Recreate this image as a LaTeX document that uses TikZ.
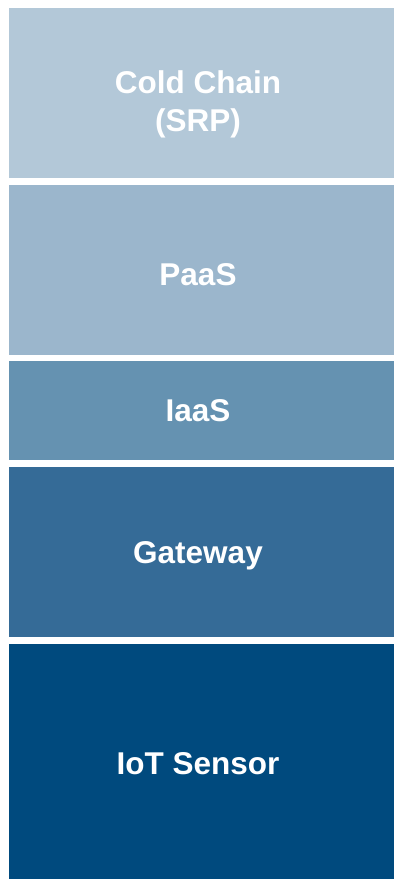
\documentclass[tikz,border=0pt]{standalone}
\usepackage{fontspec}
\setmainfont{Liberation Sans}
\definecolor{cA}{HTML}{B3C8D8}
\definecolor{cB}{HTML}{9BB6CC}
\definecolor{cC}{HTML}{6592B1}
\definecolor{cD}{HTML}{356B97}
\definecolor{cE}{HTML}{004A7E}
\tikzset{
  lbl/.style={text=white, font=\fontsize{31.5}{38.5}\selectfont\bfseries, align=center, inner sep=0pt}
}
\begin{document}
\begin{tikzpicture}[x=1pt,y=-1pt]
\useasboundingbox (0,0) rectangle (394,879);
\fill[white] (0,0) rectangle (394,879);
\fill[cA] (9,8) rectangle (394,178);
\fill[cB] (9,185) rectangle (394,355);
\fill[cC] (9,361) rectangle (394,460);
\fill[cD] (9,467) rectangle (394,637);
\fill[cE] (9,644) rectangle (394,879);
\node[lbl] (cold) at (198,104.5) {Cold Chain\\(SRP)};
\node[lbl] (paas) at (198,275) {PaaS};
\node[lbl] (iaas) at (198,410.5) {IaaS};
\node[lbl] (gw) at (198,555.5) {Gateway};
\node[lbl] (iot) at (198,763.5) {IoT Sensor};
\end{tikzpicture}
\end{document}
